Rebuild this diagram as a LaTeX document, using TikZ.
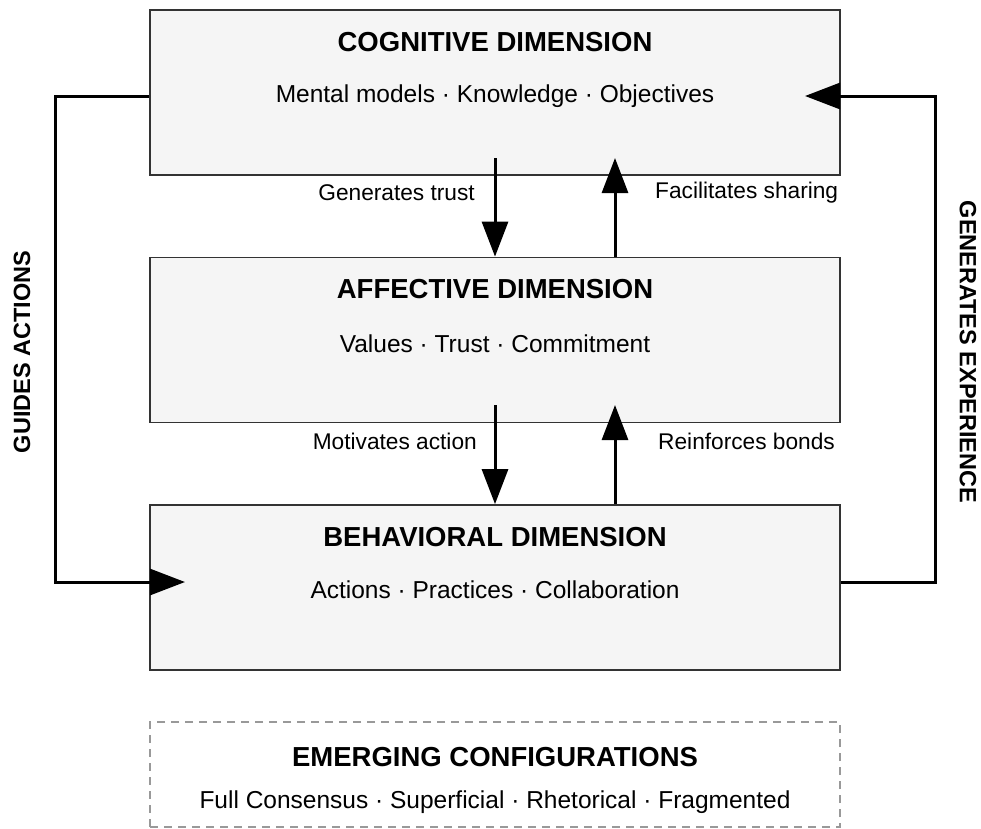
\documentclass[tikz,border=0pt]{standalone}
\usepackage{fontspec}
\setmainfont{Liberation Sans}
\usepackage{tikz}
\usetikzlibrary{arrows.meta, positioning}
\definecolor{boxfill}{HTML}{F5F5F5}
\definecolor{boxline}{HTML}{333333}
\tikzset{
	dimbox/.style={draw=boxline, line width=1.8pt, fill=boxfill, minimum width=690pt, minimum height=165pt, inner sep=0pt}
}
\tikzset{
	dimtitle/.style={font=\fontsize{27.5}{32}\selectfont\bfseries, inner sep=0pt},
	dimtext/.style={font=\fontsize{24.5}{29}\selectfont, inner sep=0pt},
	flowlabel/.style={font=\fontsize{22.7}{26}\selectfont, inner sep=0pt},
	sidelabel/.style={font=\fontsize{23.5}{28}\selectfont\bfseries, inner sep=0pt},
	flow/.style={line width=3pt, -{Triangle[length=35pt, width=26pt]}}
}

\begin{document}
\begin{tikzpicture}[x=1pt, y=-1pt]
      \useasboundingbox (0,0) rectangle (981,828);

      \node[dimbox] (cog) at (495,92.5) {};
      \node[dimbox] (aff) at (495,340) {};
      \node[dimbox] (beh) at (495,587.5) {};
      \node[dimbox, draw=gray!80, dash pattern=on 8pt off 6pt, fill=white, line width=1.3pt, minimum height=105pt] (emg) at (495,774.5) {};

      \node[dimtitle] (cogt) at (495,42) {COGNITIVE DIMENSION};
      \node[dimtext] (cogb) at (495,96) {Mental models · Knowledge · Objectives};
      \node[dimtitle] (afft) at (495,289) {AFFECTIVE DIMENSION};
      \node[dimtext] (affb) at (495,344) {Values · Trust · Commitment};
      \node[dimtitle] (beht) at (495,537) {BEHAVIORAL DIMENSION};
      \node[dimtext] (behb) at (495,590) {Actions · Practices · Collaboration};
      \node[dimtitle] (emgt) at (495,757) {EMERGING CONFIGURATIONS};
      \node[dimtext] (emgb) at (495,802) {Full Consensus · Superficial · Rhetorical · Fragmented};

      % vertical links between the dimensions
      \coordinate (d1) at (495,158);
      \coordinate (u1) at (615,158);
      \coordinate (d2) at (495,405);
      \coordinate (u2) at (615,405);
      \draw[flow] (d1) -- (d1 |- aff.north);
      \draw[flow] (u1 |- aff.north) -- (u1);
      \draw[flow] (d2) -- (d2 |- beh.north);
      \draw[flow] (u2 |- beh.north) -- (u2);

      \node[flowlabel, anchor=east] (lgen) at (475,193) {Generates trust};
      \node[flowlabel, anchor=west] (lfac) at (655,193) {Facilitates sharing};
      \node[flowlabel, anchor=east] (lmot) at (477,441) {Motivates action};
      \node[flowlabel, anchor=west] (lrei) at (658,441) {Reinforces bonds};

      % outer loops
      \coordinate (gl) at (55,96);
      \coordinate (ga) at (185,582);
      \coordinate (gr) at (935,582);
      \coordinate (ge) at (805,96);
      \draw[flow] (gl -| cog.west) -- (gl) |- (ga);
      \draw[flow] (gr -| beh.east) -- (gr) |- (ge);

      \node[sidelabel, rotate=90] (lguide) at (22,352) {GUIDES ACTIONS};
      \node[sidelabel, rotate=-90] (lexp) at (968,352) {GENERATES EXPERIENCE};
    \end{tikzpicture}
\end{document}
